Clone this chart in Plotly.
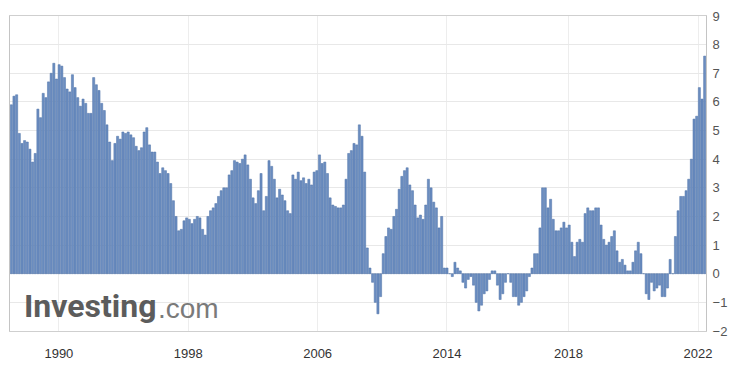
import plotly.graph_objects as go

# Bars before 2014 (sparse history)
values_pre2014 = [
    5.9, 6.2, 6.25, 4.9, 4.55, 4.65, 4.6, 4.35, 3.9, 4.2,
    5.75, 5.45, 6.3, 6.15, 6.7, 7.0, 7.35, 6.8, 7.3, 7.25,
    6.85, 6.45, 6.35, 6.95, 6.5, 6.15, 5.85, 6.1, 5.95, 5.6,
    5.6, 6.85, 6.6, 6.4, 5.95, 5.7, 5.2, 4.6, 3.95, 4.55,
    4.8, 4.7, 4.95, 4.9, 4.95, 4.85, 4.75, 4.45, 4.3, 4.4,
    4.95, 5.1, 4.5, 4.25, 4.25, 3.9, 3.5, 3.7, 3.6, 3.5,
    3.15, 2.55, 2.0, 1.5, 1.55, 1.85, 1.95, 1.9, 1.75, 1.9,
    2.0, 1.95, 1.55, 1.35, 2.0, 2.2, 2.3, 2.45, 2.7, 2.9,
    3.0, 3.0, 3.45, 3.6, 3.95, 3.9, 3.85, 4.0, 4.15, 3.8,
    3.3, 2.65, 2.45, 2.9, 3.5, 2.2, 2.7, 3.95, 3.75, 3.3,
    2.65, 2.95, 2.75, 2.55, 2.2, 2.1, 3.45, 3.3, 3.55, 3.25,
    3.35, 3.15, 3.3, 3.1, 3.55, 3.6, 4.15, 3.85, 3.9, 3.5,
    2.65, 2.4, 2.35, 2.3, 2.3, 2.4, 3.3, 4.2, 4.3, 4.55,
    4.5, 5.2, 4.8, 3.55, 0.9, 0.2, -0.3, -1.0, -1.4, -0.8,
    0.7, 1.3, 1.6, 1.55, 2.0, 2.25, 2.95, 3.4, 3.6, 3.7,
    3.1, 2.9, 2.4, 1.95, 2.05, 1.9, 2.4, 3.3, 3.0, 2.5,
    2.3, 1.6, 2.0, 0.2,
]

# Monthly bars Jan 2014 .. Feb 2022
values_2014 = [0.2, 0.0, -0.1, 0.4, 0.2, 0.1, -0.3, -0.5, -0.2, -0.1, -0.4, -1.0]
values_2015 = [-1.3, -1.1, -0.7, -0.6, -0.2, 0.1, 0.1, -0.4, -0.9, -0.7, -0.3, 0.0]
values_2016 = [-0.3, -0.8, -0.8, -1.1, -1.0, -0.8, -0.6, -0.1, 0.2, 0.7, 0.7, 1.6]
values_2017 = [3.0, 3.0, 2.3, 2.6, 1.9, 1.5, 1.5, 1.6, 1.8, 1.6, 1.7, 1.1]
values_2018 = [0.6, 1.1, 1.2, 1.1, 2.1, 2.3, 2.2, 2.2, 2.3, 2.3, 1.7, 1.2]
values_2019 = [1.0, 1.1, 1.3, 1.5, 0.8, 0.4, 0.5, 0.3, 0.1, 0.1, 0.4, 0.8]
values_2020 = [1.1, 0.7, 0.0, -0.7, -0.9, -0.3, -0.6, -0.5, -0.4, -0.8, -0.8, -0.5]
values_2021 = [0.5, 0.0, 1.3, 2.2, 2.7, 2.7, 2.9, 3.3, 4.0, 5.4, 5.5, 6.5]
values_2022 = [6.1, 7.6]

values = (values_pre2014 + values_2014 + values_2015 + values_2016 + values_2017
          + values_2018 + values_2019 + values_2020 + values_2021 + values_2022)
bar_index = list(range(len(values)))

tick_labels = ["1990", "1998", "2006", "2014", "2018", "2022"]
tick_index = [17.9, 66.6, 115.3, 164.0, 209.7, 258.5]
y_ticks = list(range(-2, 10))

fig = go.Figure()
fig.add_trace(go.Bar(
    x=bar_index, y=values,
    marker=dict(color="#6c8ec1", line=dict(color="#4c70a6", width=0.5)),
    hoverinfo="y",
))

fig.update_layout(
    width=736, height=371,
    margin=dict(l=9, r=28, t=11, b=40),
    paper_bgcolor="white", plot_bgcolor="white",
    bargap=0.2, showlegend=False,
    font=dict(family="Liberation Sans, Arial, sans-serif", size=13, color="#444"),
)
fig.update_xaxes(
    range=[-0.5, len(values) - 0.5],
    tickmode="array", tickvals=tick_index, ticktext=tick_labels,
    showgrid=True, gridcolor="#ededed", gridwidth=1,
    showline=True, linecolor="#cfcfcf", linewidth=1, mirror=True,
    ticks="outside", ticklen=10, tickcolor="rgba(0,0,0,0)",
    tickfont=dict(size=13, color="#333"),
    zeroline=False,
)
fig.update_yaxes(
    side="right", range=[-2, 9],
    tickmode="array", tickvals=y_ticks,
    showgrid=True, gridcolor="#e8e8e8", gridwidth=1,
    showline=True, linecolor="#c4c4c4", linewidth=1, mirror=True,
    zeroline=True, zerolinecolor="#e0e0e0", zerolinewidth=1,
    tickfont=dict(size=13, color="#555"),
    ticks="outside", ticklen=3, tickcolor="rgba(0,0,0,0)",
)

# Investing.com watermark
fig.add_annotation(
    xref="paper", yref="paper", x=(21 - 9) / 699, y=(331 - 327) / 320,
    xanchor="left", yanchor="bottom", showarrow=False,
    text="<b>Investing</b>",
    font=dict(family="Roboto, Liberation Sans, sans-serif", size=32, color="#5c5c5c"),
)
fig.add_annotation(
    xref="paper", yref="paper", x=(156 - 9) / 699, y=(331 - 326) / 320,
    xanchor="left", yanchor="bottom", showarrow=False,
    text=".com",
    font=dict(family="Liberation Sans, Arial, sans-serif", size=28, color="#7a7a7a"),
)

fig.write_html("out.html")
